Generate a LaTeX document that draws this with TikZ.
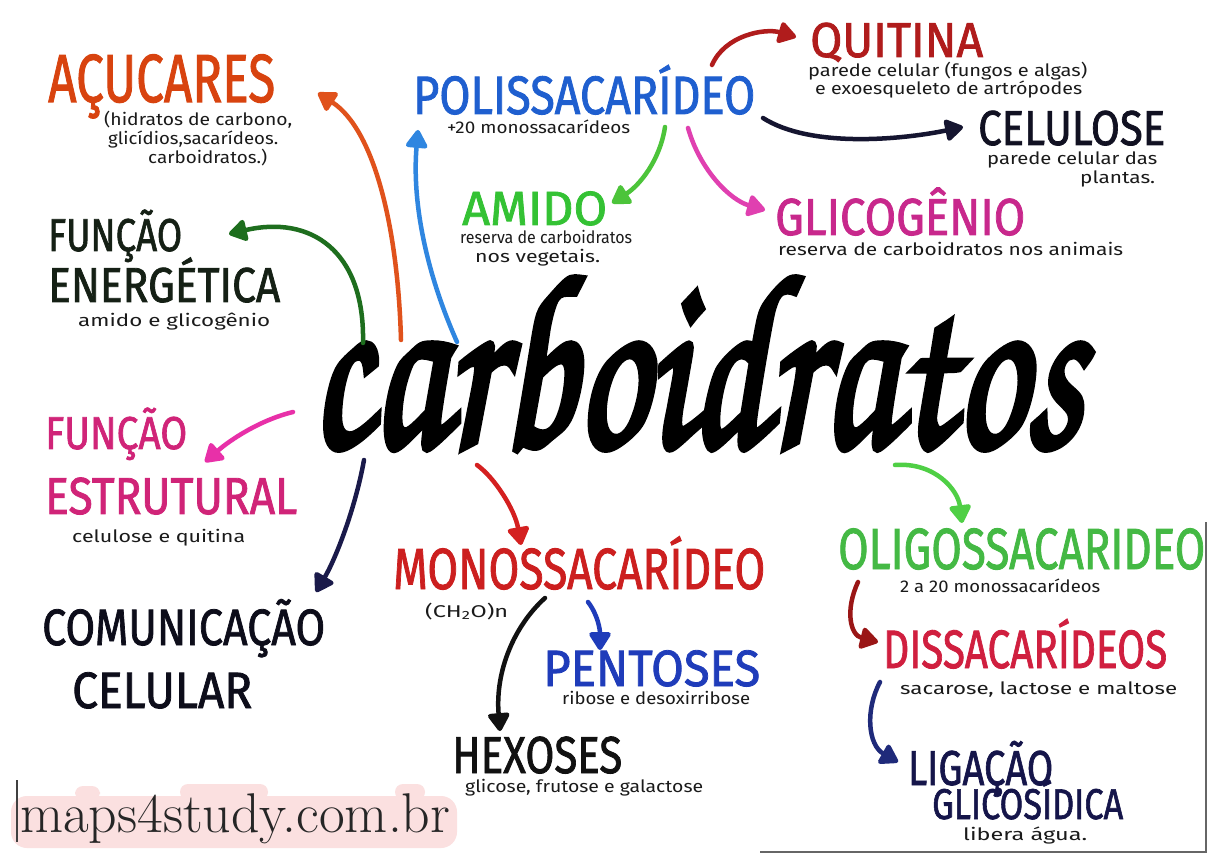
\documentclass[tikz,border=0pt]{standalone}
\usepackage{fontspec}
\usepackage{graphicx}
\setmainfont{Fira Sans}
\newfontfamily\hfont{Fira Sans}[AutoFakeBold=1.6]
\newfontfamily\chorus{TeX Gyre Chorus}[AutoFakeBold=3]
\newfontfamily\wmfont{Latin Modern Roman}
\usetikzlibrary{arrows.meta}

\definecolor{cAcu}{HTML}{D8430F}
\definecolor{aAcu}{HTML}{E0521C}
\definecolor{cPoli}{HTML}{1F5FCF}
\definecolor{aPoli}{HTML}{2F86E0}
\definecolor{cQui}{HTML}{B01C1C}
\definecolor{cCel}{HTML}{111122}
\definecolor{aCel}{HTML}{151530}
\definecolor{cAmi}{HTML}{34C234}
\definecolor{aAmi}{HTML}{4CC43A}
\definecolor{cGli}{HTML}{C8288C}
\definecolor{aGli}{HTML}{E040B0}
\definecolor{cEne}{HTML}{152015}
\definecolor{aEne}{HTML}{1E6E1E}
\definecolor{cEst}{HTML}{D02478}
\definecolor{aEst}{HTML}{E830A8}
\definecolor{cCom}{HTML}{0D0D1A}
\definecolor{aCom}{HTML}{1A1A4A}
\definecolor{cMono}{HTML}{CC1F1F}
\definecolor{aMono}{HTML}{D42020}
\definecolor{cPen}{HTML}{1F3CBA}
\definecolor{cHex}{HTML}{111111}
\definecolor{cOli}{HTML}{44B944}
\definecolor{aOli}{HTML}{4FCF45}
\definecolor{cDis}{HTML}{D01F3F}
\definecolor{aDis}{HTML}{9A1616}
\definecolor{cLig}{HTML}{15154A}
\definecolor{aLig}{HTML}{1F2A7A}
\definecolor{smtext}{HTML}{1A1A1A}
\definecolor{wmpink}{HTML}{FBE0E0}

\newcommand{\hd}[3]{\resizebox{#1pt}{\height}{\fontsize{#2}{#2}\selectfont\hfont\bfseries #3}}
\newcommand{\sm}[2]{\resizebox{#1pt}{\height}{\fontsize{17}{17}\selectfont #2}}
\newcommand{\wmtext}{\resizebox{430pt}{\height}{\fontsize{56}{56}\selectfont\wmfont maps4study.com.br}}

\tikzset{
  lbl/.style={inner sep=0pt, anchor=base west},
  sml/.style={lbl, text=smtext},
  arr/.style={line width=4.5pt, line cap=round,
    -{Triangle[length=20pt,width=24pt,round]}},
  border/.style={line width=2pt, draw=black!75},
}

\begin{document}
\begin{tikzpicture}[x=1pt,y=-1pt]
\useasboundingbox (0,0) rectangle (1208,866);
\fill[white] (0,0) rectangle (1208,866);

% central word
\node[lbl] (carb) at (310,446) {\resizebox{772pt}{168pt}{\chorus\bfseries carboidratos}};

% top-left
\node[lbl,text=cAcu] (acu) at (48,102) {\hd{227}{68}{AÇUCARES}};
\node[sml] (acu1) at (104,126) {\sm{188}{(hidratos de carbono,}};
\node[sml] (acu2) at (108,145) {\sm{170}{glicídios,sacarídeos.}};
\node[sml] (acu3) at (148,164) {\sm{119}{carboidratos.)}};

\node[lbl,text=cPoli] (poli) at (413,114) {\hd{342}{54}{POLISSACARÍDEO}};
\node[sml] (poli1) at (447,134) {\sm{183}{+20 monossacarídeos}};

\node[lbl,text=cQui] (qui) at (810,57) {\hd{173}{49}{QUITINA}};
\node[sml] (qui1) at (808,77) {\sm{279}{parede celular (fungos e algas)}};
\node[sml] (qui2) at (815,95) {\sm{267}{e exoesqueleto de artrópodes}};

\node[lbl,text=cCel] (cel) at (978,145) {\hd{187}{49}{CELULOSE}};
\node[sml] (cel1) at (987,165) {\sm{170}{parede celular das}};
\node[sml] (cel2) at (1080,184) {\sm{75}{plantas.}};

\node[lbl,text=cAmi] (ami) at (462,225) {\hd{145}{48}{AMIDO}};
\node[sml] (ami1) at (460,244) {\sm{172}{reserva de carboidratos}};
\node[sml] (ami2) at (475,263) {\sm{125}{nos vegetais.}};

\node[lbl,text=cGli] (gli) at (775,235) {\hd{250}{52}{GLICOGÊNIO}};
\node[sml] (gli1) at (778,256) {\sm{345}{reserva de carboidratos nos animais}};

\node[lbl,text=cEne] (fe1) at (48,251) {\hd{134}{46}{FUNÇÃO}};
\node[lbl,text=cEne] (fe2) at (48,302) {\hd{232}{49}{ENERGÉTICA}};
\node[sml] (fe3) at (78,327) {\sm{192}{amido e glicogênio}};

\node[lbl,text=cEst] (fs1) at (45,449) {\hd{142}{46}{FUNÇÃO}};
\node[lbl,text=cEst] (fs2) at (45,514) {\hd{252}{52}{ESTRUTURAL}};
\node[sml] (fs3) at (72,542) {\sm{173}{celulose e quitina}};

\node[lbl,text=cCom] (com1) at (42,645) {\hd{283}{51}{COMUNICAÇÃO}};
\node[lbl,text=cCom] (com2) at (72,708) {\hd{180}{51}{CELULAR}};

\node[lbl,text=cMono] (mono) at (393,589) {\hd{372}{58}{MONOSSACARÍDEO}};
\node[sml] (mono1) at (425,617) {\resizebox{83pt}{\height}{\fontsize{17}{17}\selectfont (CH\textsubscript{2}O)n}};

\node[lbl,text=cPen] (pen) at (543,686) {\hd{217}{51}{PENTOSES}};
\node[sml] (pen1) at (562,704) {\sm{188}{ribose e desoxirribose}};

\node[lbl,text=cHex] (hex) at (452,773) {\hd{170}{52}{HEXOSES}};
\node[sml] (hex1) at (465,792) {\sm{238}{glicose, frutose e galactose}};

\node[lbl,text=cOli] (oli) at (838,569) {\hd{367}{58}{OLIGOSSACARIDEO}};
\node[sml] (oli1) at (900,592) {\sm{200}{2 a 20 monossacarídeos}};

\node[lbl,text=cDis] (dis) at (883,668) {\hd{284}{54}{DISSACARÍDEOS}};
\node[sml] (dis1) at (900,694) {\sm{277}{sacarose, lactose e maltose}};

\node[lbl,text=cLig] (lig1) at (908,785) {\hd{145}{49}{LIGAÇÃO}};
\node[lbl,text=cLig] (lig2) at (932,819) {\hd{191}{43}{GLICOSÍDICA}};
\node[sml] (lig3) at (963,840) {\sm{124}{libera água.}};

% watermark with pink halo
\fill[wmpink, rounded corners=16pt] (11,796) rectangle (457,848);
\fill[wmpink, rounded corners=8pt] (75,786) rectangle (100,800);
\fill[wmpink, rounded corners=8pt] (180,784) rectangle (268,800);
\fill[wmpink, rounded corners=8pt] (395,784) rectangle (425,800);
\node[lbl,text=black!85] (wm) at (20,832) {\wmtext};

% photo edges
\draw[border] (17,780) -- (17,842);
\draw[border, draw=black!60] (1206,522) -- (1206,852) -- (760,852);

% connector end points
\coordinate (tAcu) at (401,340);  \coordinate (hAcu) at (318,93);
\coordinate (tPoli) at (457,342); \coordinate (hPoli) at (418,130);
\coordinate (tEne) at (363,343);  \coordinate (hEne) at (229,234);
\coordinate (tEst) at (293,412);  \coordinate (hEst) at (205,462);
\coordinate (tCom) at (364,460);  \coordinate (hCom) at (316,592);
\coordinate (tMono) at (477,465); \coordinate (hMono) at (521,545);
\coordinate (tOli) at (895,465);  \coordinate (hOli) at (962,523);
\coordinate (tQui) at (712,65);   \coordinate (hQui) at (796,37);
\coordinate (tCel) at (763,118);  \coordinate (hCel) at (963,127);
\coordinate (tAmi) at (665,127);  \coordinate (hAmi) at (612,203);
\coordinate (tGli) at (688,128);  \coordinate (hGli) at (765,210);
\coordinate (tHex) at (545,598);  \coordinate (hHex) at (500,731);
\coordinate (tPen) at (588,602);  \coordinate (hPen) at (600,650);
\coordinate (tDis) at (858,582);  \coordinate (hDis) at (878,642);
\coordinate (tLig) at (880,682);  \coordinate (hLig) at (898,762);

% connectors
\draw[arr, draw=aAcu] (tAcu) .. controls (398,230) and (375,130) .. (hAcu);
\draw[arr, draw=aPoli] (tPoli) .. controls (425,270) and (412,200) .. (hPoli);
\draw[arr, draw=aEne] (tEne) .. controls (365,250) and (310,215) .. (hEne);
\draw[arr, draw=aEst] (tEst) .. controls (260,420) and (230,440) .. (hEst);
\draw[arr, draw=aCom] (tCom) .. controls (355,510) and (335,560) .. (hCom);
\draw[arr, draw=aMono] (tMono) .. controls (495,478) and (515,510) .. (hMono);
\draw[arr, draw=aOli] (tOli) .. controls (935,462) and (958,490) .. (hOli);
\draw[arr, draw=cQui] (tQui) .. controls (725,35) and (765,28) .. (hQui);
\draw[arr, draw=aCel] (tCel) .. controls (810,148) and (900,140) .. (hCel);
\draw[arr, draw=aAmi] (tAmi) .. controls (660,160) and (640,185) .. (hAmi);
\draw[arr, draw=aGli] (tGli) .. controls (700,170) and (730,200) .. (hGli);
\draw[arr, draw=cHex] (tHex) .. controls (515,625) and (495,670) .. (hHex);
\draw[arr, draw=cPen] (tPen) .. controls (598,615) and (600,630) .. (hPen);
\draw[arr, draw=aDis] (tDis) .. controls (845,610) and (850,635) .. (hDis);
\draw[arr, draw=aLig] (tLig) .. controls (865,710) and (868,745) .. (hLig);
\end{tikzpicture}
\end{document}
